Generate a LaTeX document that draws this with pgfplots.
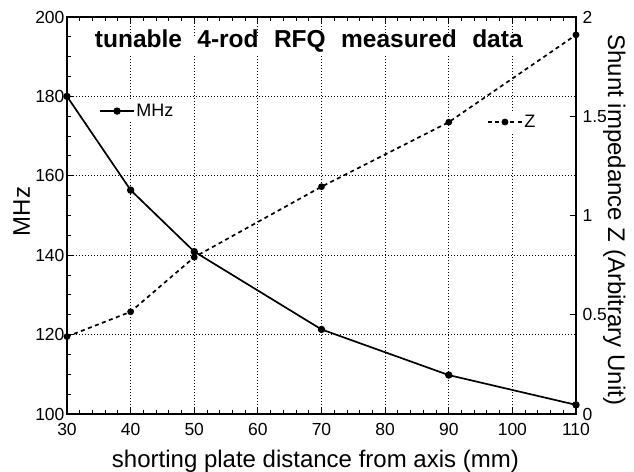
\documentclass[border=0pt]{standalone}
\usepackage{fontspec}
\setmainfont{Liberation Sans}
\usepackage{pgfplots}
\pgfplotsset{compat=1.18}
\begin{document}
\begin{tikzpicture}
\pgfplotsset{
  every axis/.append style={
    width=509pt, height=397pt, scale only axis,
    xmin=30, xmax=110,
    /pgf/number format/assume math mode=true,
    tick align=inside,
    major tick length=6pt, minor tick length=4pt,
    every tick/.style={black, line width=0.9pt},
    axis line style={line width=1.6pt},
    tick label style={font=\fontsize{17.5}{17.5}\selectfont},
    label style={font=\fontsize{24}{26}\selectfont},
    legend image code/.code={\draw[mark repeat=2,mark phase=2,#1] plot coordinates {(0pt,0pt) (17pt,0pt) (34pt,0pt)};},
  },
}
% left axis (MHz)
\begin{axis}[
  ymin=100, ymax=200,
  xtick={30,40,...,110},
  minor x tick num=4,
  ytick={100,120,...,200},
  minor y tick num=3,
  ytick pos=left,
  xmajorgrids, ymajorgrids,
  major grid style={black, line width=1.2pt, dash pattern=on 1.2pt off 1.8pt},
  xticklabel style={yshift=-6pt},
  yticklabel style={xshift=1pt},
  xlabel={shorting plate distance from axis (mm)},
  xlabel style={at={(rel axis cs:0.488,0)}, anchor=base, yshift=-54pt},
  ylabel={MHz},
  ylabel style={at={(rel axis cs:-0.0727,0.51)}, anchor=base},
  legend style={at={(rel axis cs:0.061,0.763)}, anchor=west, draw=none, fill=white,
    inner xsep=1pt, inner ysep=2pt, font=\fontsize{18}{18}\selectfont,
    nodes={inner sep=1.5pt}},
]
\addplot[black, line width=1.7pt, mark=*, mark size=2.8pt] coordinates {
  (30,180) (40,156.4) (50,140.9) (70,121.3) (90,109.8) (110,102.3)
};
\addlegendentry{MHz}
\node[fill=white, anchor=base, inner xsep=5pt, inner ysep=4pt,
      text height=0.72em, text depth=0.2em,
      font=\fontsize{24.5}{26}\selectfont\bfseries]
  at (rel axis cs:0.475,1) [yshift=-31pt]
  {tunable\hspace{0.35em} 4-rod\hspace{0.35em} RFQ\hspace{0.35em} measured\hspace{0.35em} data};
\end{axis}
% right axis (Z)
\begin{axis}[
  ymin=0, ymax=2,
  axis y line*=right,
  axis x line=none,
  ytick={0,0.5,1,1.5,2},
  yticklabels={0,0.5,1,1.5,2},
  minor y tick num=0,
  yticklabel style={xshift=3pt},
  ylabel={Shunt impedance Z (Arbitrary Unit)},
  ylabel style={at={(rel axis cs:1.0629,0.489)}, anchor=base, rotate=180},
  legend style={at={(rel axis cs:0.823,0.7355)}, anchor=west, draw=none, fill=white,
    inner xsep=1pt, inner ysep=2pt, font=\fontsize{18}{18}\selectfont,
    nodes={inner sep=1.5pt}},
]
\addplot[black, line width=1.7pt, dash pattern=on 4pt off 3.5pt, mark=*, mark size=2.5pt,
  mark options={solid}] coordinates {
  (30,0.39) (40,0.515) (50,0.79) (70,1.145) (90,1.47) (110,1.91)
};
\addlegendentry{Z}
\end{axis}
\pgfresetboundingbox
\path ([shift={(-67pt,-58pt)}]current axis.south west) rectangle ([shift={(58pt,17pt)}]current axis.north east);
\end{tikzpicture}
\end{document}
